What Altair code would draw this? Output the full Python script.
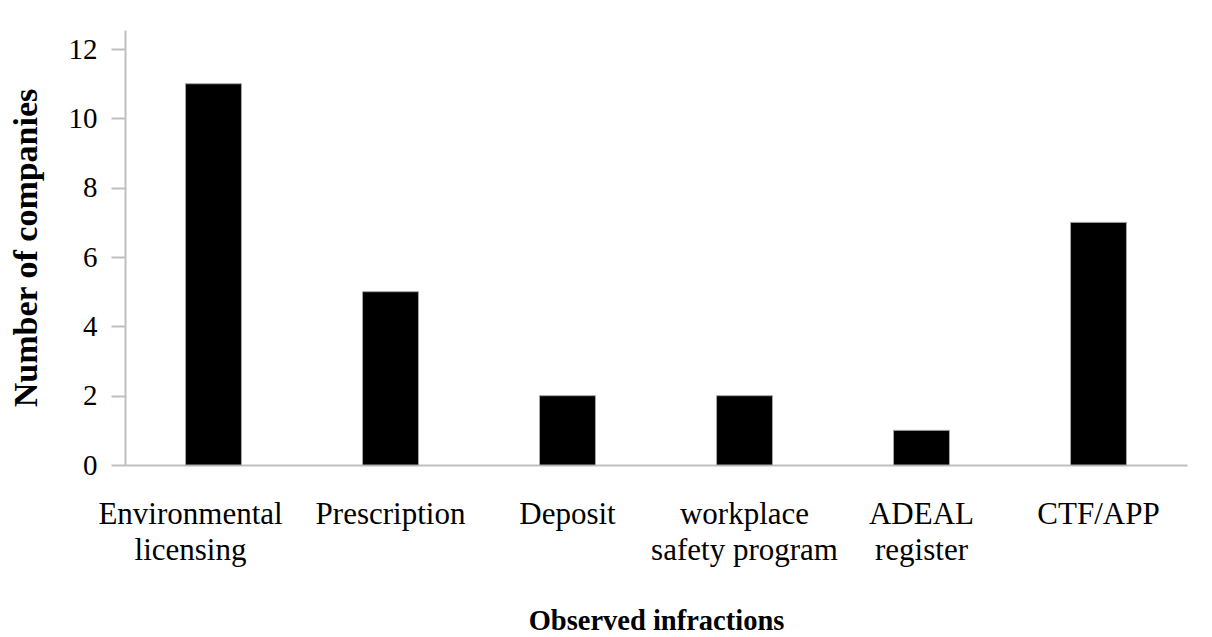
import altair as alt
import pandas as pd

categories = ["Environmental\nlicensing", "Prescription", "Deposit",
              "workplace\nsafety program", "ADEAL\nregister", "CTF/APP"]
values = [11, 5, 2, 2, 1, 7]

df = pd.DataFrame({"cat": categories, "val": values})

FONT = "Liberation Serif"
GRAY = "#bfbfbf"

chart = alt.Chart(df).mark_bar(color="black", stroke="#a6a6a6", strokeWidth=1).encode(
    x=alt.X("cat:N", sort=categories,
            scale=alt.Scale(paddingInner=0.684, paddingOuter=0.342),
            axis=alt.Axis(title="Observed infractions", labelAngle=0, ticks=False,
                          labelExpr="split(datum.label, '\\n')",
                          labelFont=FONT, labelFontSize=31, labelColor="black",
                          labelBaseline="top", labelPadding=34, labelLineHeight=36,
                          labelLimit=400, labelOverlap=False,
                          labelOffset={"condition": {"test": "substring(datum.value, 0, 7) === 'Environ'",
                                                     "value": -23}, "value": 0},
                          domainColor=GRAY, domainWidth=2,
                          titleFont=FONT, titleFontSize=28.5, titleFontWeight="bold",
                          titleColor="black", titleY=155, titleBaseline="middle")),
    y=alt.Y("val:Q", scale=alt.Scale(domain=[0, 12.55], nice=False),
            axis=alt.Axis(title="Number of companies", values=[0, 2, 4, 6, 8, 10, 12],
                          grid=False, tickSize=14, tickColor=GRAY, tickWidth=2,
                          domainColor=GRAY, domainWidth=2,
                          labelFont=FONT, labelFontSize=29, labelColor="black",
                          labelPadding=14,
                          titleFont=FONT, titleFontSize=34, titleFontWeight="bold",
                          titleColor="black", titleX=-99, titleBaseline="middle")),
).properties(
    width=1062, height=435,
    autosize=alt.AutoSizeParams(type="none"),
    padding={"left": 117, "top": 22, "right": 17, "bottom": 173},
).configure_view(stroke=None)

chart.save("out.html", embed_options={"renderer": "svg", "actions": False})
